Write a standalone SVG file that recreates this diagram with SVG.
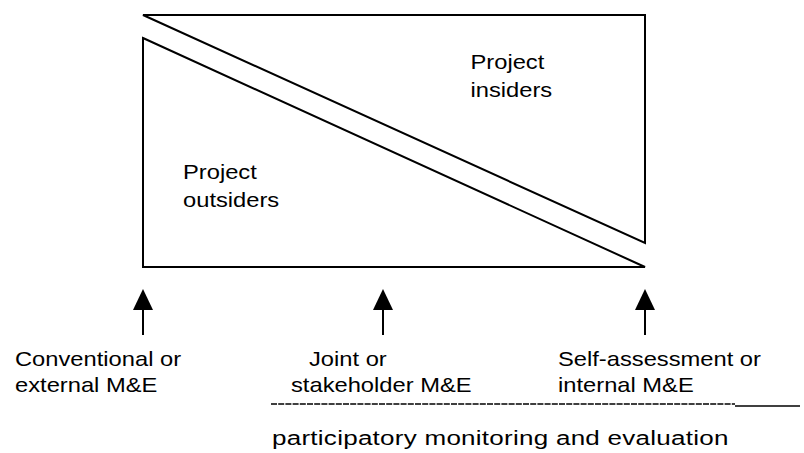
<svg xmlns="http://www.w3.org/2000/svg" width="804" height="453" viewBox="0 0 804 453">
  <style>
    .edge { fill: none; stroke: #000; stroke-width: 2; stroke-linejoin: miter; }
    .shaft { stroke: #000; stroke-width: 2; }
    .label { font-family: "Liberation Sans", Arial, sans-serif; font-size: 21px; fill: #000; }
  </style>
  <rect width="804" height="453" fill="#fff"/>

  <!-- upper wedge: project insiders -->
  <g id="insiders">
    <path class="edge" d="M143 15 L645 15 L645 243 Z"/>
    <text class="label" transform="translate(470.5,69) scale(1.13,1)"><tspan x="0" y="0">Project</tspan><tspan x="0" y="28">insiders</tspan></text>
  </g>

  <!-- lower wedge: project outsiders -->
  <g id="outsiders">
    <path class="edge" d="M143 38 L645 267 L143 267 Z"/>
    <text class="label" transform="translate(183,179) scale(1.13,1)"><tspan x="0" y="0">Project</tspan><tspan x="0" y="28">outsiders</tspan></text>
  </g>

  <!-- pointers from each M&E type up to the baseline -->
  <g id="connectors">
    <line class="shaft" x1="143" y1="335" x2="143" y2="305"/>
    <path d="M143 289 L153 310 L133 310 Z"/>
    <line class="shaft" x1="383" y1="335" x2="383" y2="305"/>
    <path d="M383 289 L393 310 L373 310 Z"/>
    <line class="shaft" x1="645" y1="335" x2="645" y2="305"/>
    <path d="M645 289 L655 310 L635 310 Z"/>
  </g>

  <g id="conventional">
    <text class="label" transform="translate(15,366) scale(1.13,1)"><tspan x="0" y="0">Conventional or</tspan><tspan x="0" y="26">external M&amp;E</tspan></text>
  </g>

  <g id="joint">
    <text class="label" transform="translate(309,366) scale(1.13,1)"><tspan x="0" y="0">Joint or</tspan></text>
    <text class="label" transform="translate(291,392) scale(1.13,1)"><tspan x="0" y="0">stakeholder M&amp;E</tspan></text>
  </g>

  <g id="self">
    <text class="label" transform="translate(558,366) scale(1.13,1)"><tspan x="0" y="0">Self-assessment or</tspan><tspan x="0" y="26">internal M&amp;E</tspan></text>
  </g>

  <!-- span marking the participatory approaches -->
  <g id="participatory">
    <line x1="271" y1="404" x2="735" y2="404" stroke="#000" stroke-width="1.3" stroke-dasharray="6 1.2"/>
    <line x1="735" y1="406" x2="800" y2="406" stroke="#000" stroke-width="1.3"/>
    <text class="label" transform="translate(272,445) scale(1.24,1)" font-size="22" letter-spacing="0.2"><tspan x="0" y="0">participatory monitoring and evaluation</tspan></text>
  </g>
</svg>
